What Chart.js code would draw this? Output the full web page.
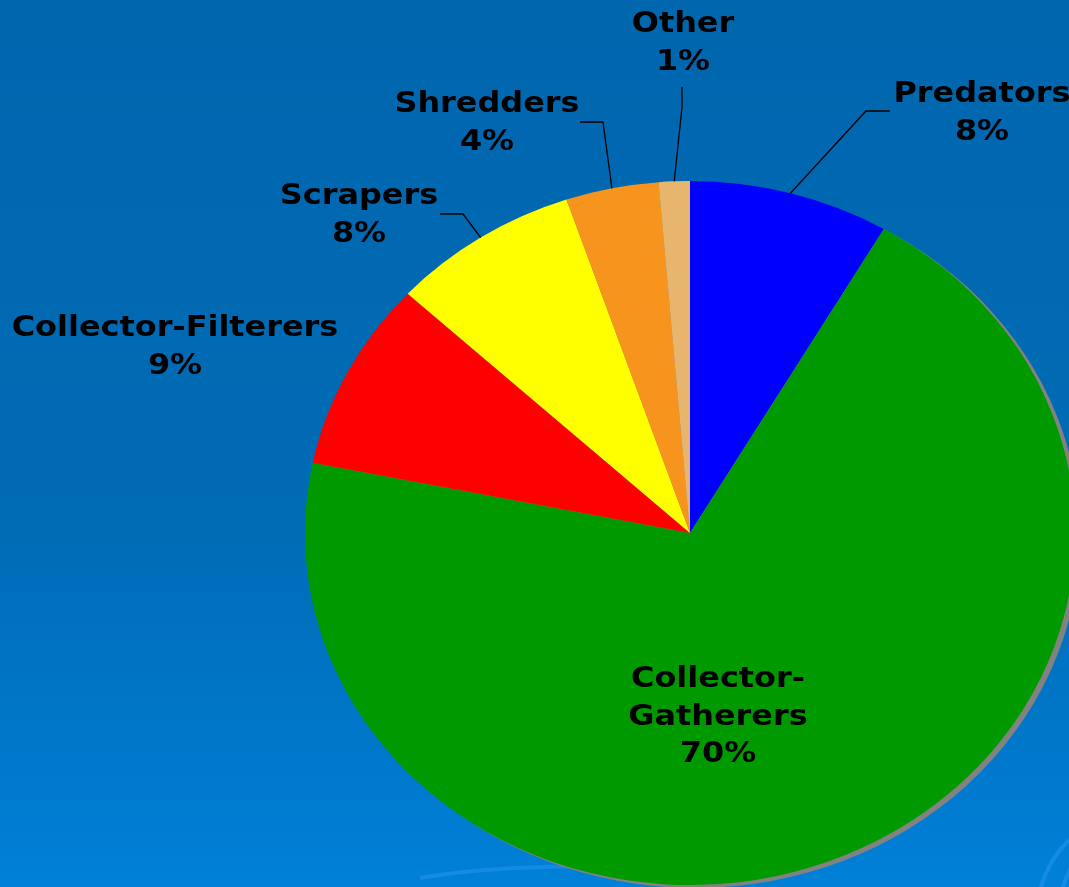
<!DOCTYPE html>
<html>
<head>
<meta charset="utf-8">
<script src="https://cdn.jsdelivr.net/npm/chart.js@4/dist/chart.umd.min.js"></script>
<style>
  html, body { margin: 0; padding: 0; overflow: hidden; background: #0068B2; }
  #wrap { width: 1069px; height: 887px; }
</style>
</head>
<body>
<div id="wrap"><canvas id="pieChart" width="1069" height="887"></canvas></div>
<script>
// functional feeding groups, share of individuals (%)
var categories = ['Predators', 'Collector-Gatherers', 'Collector-Filterers', 'Scrapers', 'Shredders', 'Other'];
var shares = [8.4, 69.8, 8.7, 7.9, 3.9, 1.3];
var sliceColors = ['#0000FF', '#009900', '#FF0000', '#FFFF00', '#F7941D', '#E8B56F'];

// label placement: text centre x, first baseline y, optional leader elbow + end
var labelLayout = [
  {x: 982, y: 102, lines: true, elbow: [866, 111], end: [890, 111]},
  {x: 718, y: 687, lines: false, split: true},
  {x: 175, y: 336, lines: false},
  {x: 359, y: 204, lines: true, elbow: [463, 214], end: [440, 214]},
  {x: 487, y: 112, lines: true, elbow: [603, 122], end: [580, 122]},
  {x: 683, y: 32, lines: true, elbow: [682, 107], end: [682, 87]}
];

var squash = 352 / 385; // the original pie is slightly flattened
var textStretch = 1.14;  // the slide font is wider than DejaVu

var total = shares.reduce(function(a, b) { return a + b; }, 0);

var backdrop = {
  id: 'backdrop',
  beforeDraw: function(chart) {
    var ctx = chart.ctx;
    var g = ctx.createLinearGradient(0, 0, 0, chart.height);
    g.addColorStop(0, '#0066AE');
    g.addColorStop(0.6, '#006CB6');
    g.addColorStop(1, '#0080D8');
    ctx.save();
    ctx.fillStyle = g;
    ctx.fillRect(0, 0, chart.width, chart.height);
    // faint swooshes in the lower part of the slide
    ctx.strokeStyle = 'rgba(40, 150, 245, 0.5)';
    ctx.lineWidth = 4;
    ctx.beginPath();
    ctx.moveTo(420, 878);
    ctx.quadraticCurveTo(500, 864, 620, 867);
    ctx.stroke();
    ctx.beginPath();
    ctx.moveTo(1040, 890);
    ctx.quadraticCurveTo(1050, 855, 1075, 835);
    ctx.stroke();
    ctx.beginPath();
    ctx.moveTo(1062, 890);
    ctx.quadraticCurveTo(1068, 868, 1080, 855);
    ctx.stroke();
    ctx.restore();
  }
};

var ellipsePie = {
  id: 'ellipsePie',
  beforeDatasetsDraw: function(chart) {
    var ctx = chart.ctx;
    var arc = chart.getDatasetMeta(0).data[0];
    var cx = arc.x, cy = arc.y, r = arc.outerRadius;
    // grey drop shadow
    ctx.save();
    ctx.translate(cx + 5, cy + 3);
    ctx.scale(1, squash);
    ctx.beginPath();
    ctx.arc(0, 0, r, 0, Math.PI * 2);
    ctx.fillStyle = '#828282';
    ctx.fill();
    ctx.restore();
    ctx.save();
    ctx.translate(cx, cy);
    ctx.scale(1, squash);
    ctx.translate(-cx, -cy);
  },
  afterDatasetsDraw: function(chart) {
    chart.ctx.restore();
  }
};

var pieLabels = {
  id: 'pieLabels',
  afterDraw: function(chart) {
    var ctx = chart.ctx;
    var meta = chart.getDatasetMeta(0);
    ctx.save();
    ctx.font = 'bold 28px "DejaVu Sans", Verdana, sans-serif';
    ctx.fillStyle = '#000000';
    ctx.textAlign = 'center';
    ctx.textBaseline = 'alphabetic';
    meta.data.forEach(function(arc, i) {
      var lay = labelLayout[i];
      var pct = Math.round(shares[i] / total * 100) + '%';
      var rows = lay.split ? ['Collector-', 'Gatherers', pct] : [categories[i], pct];
      rows.forEach(function(txt, k) {
        ctx.save();
        ctx.translate(lay.x, lay.y + k * 37.5);
        ctx.scale(textStretch, 1);
        ctx.fillText(txt, 0, 0);
        ctx.restore();
      });
      if (lay.lines) {
        var mid = (arc.startAngle + arc.endAngle) / 2;
        var sx = arc.x + Math.cos(mid) * arc.outerRadius;
        var sy = arc.y + Math.sin(mid) * arc.outerRadius * squash;
        ctx.beginPath();
        ctx.moveTo(sx, sy);
        ctx.lineTo(lay.elbow[0], lay.elbow[1]);
        ctx.lineTo(lay.end[0], lay.end[1]);
        ctx.lineWidth = 1.3;
        ctx.strokeStyle = '#000000';
        ctx.stroke();
      }
    });
    ctx.restore();
  }
};

var ctx = document.getElementById('pieChart').getContext('2d');
new Chart(ctx, {
  type: 'pie',
  data: {
    labels: categories,
    datasets: [{
      data: shares,
      backgroundColor: sliceColors,
      borderWidth: 0,
      radius: 385,
      clip: false
    }]
  },
  options: {
    responsive: false,
    animation: false,
    layout: {padding: {left: 311, right: 0, top: 179, bottom: 0}},
    plugins: {
      legend: {display: false},
      tooltip: {enabled: false}
    }
  },
  plugins: [backdrop, ellipsePie, pieLabels]
});
</script>
</body>
</html>
